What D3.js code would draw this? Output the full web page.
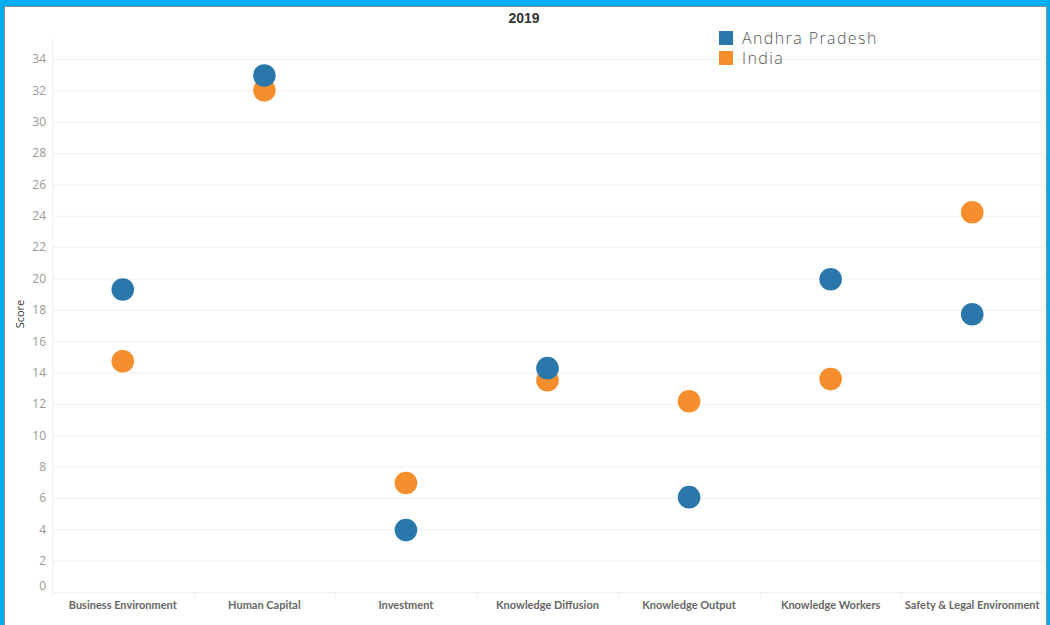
<!DOCTYPE html>
<html>
<head>
<meta charset="utf-8">
<script src="https://cdn.jsdelivr.net/npm/d3@7"></script>
<style>
  body { margin: 0; background: #00adef; }
  svg { display: block; }
</style>
</head>
<body>
<svg id="chart" width="1050" height="625"></svg>
<script>
const categories = ['Business Environment', 'Human Capital', 'Investment', 'Knowledge Diffusion',
  'Knowledge Output', 'Knowledge Workers', 'Safety & Legal Environment'];
const seriesNames = ['Andhra Pradesh', 'India'];
const andhraPradesh = [19.3, 32.95, 3.95, 14.28, 6.05, 19.95, 17.72];
const india = [14.72, 32.0, 6.95, 13.51, 12.17, 13.58, 24.22];
const yTicks = d3.range(0, 35, 2);
const colors = ['#2a78ab', '#f68e2d'];

const svg = d3.select('#chart');

// frame
svg.append('rect').attr('x', 0).attr('y', 0).attr('width', 1050).attr('height', 625).attr('fill', '#00adef');
svg.append('rect').attr('x', 4.5).attr('y', 6.5).attr('width', 1042).attr('height', 640)
  .attr('fill', '#fff').attr('stroke', '#8a8a8a').attr('stroke-width', 1);

const plotLeft = 52, plotRight = 1043, plotTop = 38, plotBottom = 592;
const x = d3.scaleBand().domain(categories).range([plotLeft, plotRight]);
const y = d3.scaleLinear().domain([0, 34]).range([plotBottom, 59]);

// gridlines
svg.append('g').selectAll('line').data(yTicks).join('line')
  .attr('x1', plotLeft).attr('x2', plotRight)
  .attr('y1', d => y(d) + 0.5).attr('y2', d => y(d) + 0.5)
  .attr('stroke', '#f0f0f0');
svg.append('line').attr('x1', plotLeft + 0.5).attr('x2', plotLeft + 0.5).attr('y1', plotTop).attr('y2', plotBottom + 5)
  .attr('stroke', '#f0f0f0');

// y axis
const yAxis = svg.append('g').attr('transform', `translate(${plotLeft},0)`)
  .call(d3.axisLeft(y).tickValues(yTicks).tickSize(0).tickPadding(6));
yAxis.select('.domain').remove();
yAxis.selectAll('text')
  .attr('fill', '#999').style('font', '12px "Open Sans", sans-serif')
  .attr('dy', d => d === 0 ? '-0.25em' : '0.32em');

svg.append('text')
  .attr('transform', 'translate(24,314) rotate(-90)')
  .attr('text-anchor', 'middle')
  .style('font', '11px "Open Sans", sans-serif').attr('fill', '#333')
  .text('Score');

// x axis
const xAxis = svg.append('g').attr('transform', `translate(0,${plotBottom})`)
  .call(d3.axisBottom(x).tickSize(0).tickPadding(9));
xAxis.select('.domain').attr('stroke', '#f0f0f0');
xAxis.selectAll('text')
  .attr('fill', '#666').style('font', 'bold 11px Lato, sans-serif');
svg.append('g').selectAll('line').data(categories.slice(1)).join('line')
  .attr('x1', d => Math.round(x(d)) + 0.5).attr('x2', d => Math.round(x(d)) + 0.5)
  .attr('y1', plotBottom).attr('y2', plotBottom + 5)
  .attr('stroke', '#eee');

// title
svg.append('text').attr('x', 524).attr('y', 23).attr('text-anchor', 'middle')
  .style('font', 'bold 14px "Liberation Sans", Arial, sans-serif').attr('fill', '#333')
  .text('2019');

// dots: India first, Andhra Pradesh drawn on top
const series = [
  { name: seriesNames[1], values: india, color: colors[1] },
  { name: seriesNames[0], values: andhraPradesh, color: colors[0] }
];
series.forEach(s => {
  svg.append('g').selectAll('circle').data(s.values).join('circle')
    .attr('cx', (d, i) => x(categories[i]) + x.bandwidth() / 2)
    .attr('cy', d => y(d))
    .attr('r', 11.3)
    .attr('fill', s.color);
});

// legend
const legend = svg.append('g').attr('transform', 'translate(719,31)');
seriesNames.forEach((name, i) => {
  const g = legend.append('g').attr('transform', `translate(0,${i * 20})`);
  g.append('rect').attr('width', 14).attr('height', 14).attr('fill', colors[i]);
  g.append('text').attr('x', 23).attr('y', 13)
    .style('font', '300 16px "Open Sans", sans-serif').style('letter-spacing', '1.4px')
    .attr('fill', '#555')
    .text(name);
});
</script>
</body>
</html>
